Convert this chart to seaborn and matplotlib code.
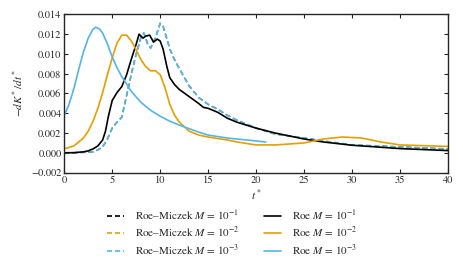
import numpy as np
import pandas as pd
import matplotlib
matplotlib.use("Agg")
import matplotlib.pyplot as plt
from matplotlib.lines import Line2D
import seaborn as sns

# ---- data ----
t_rm = [0, 1, 2, 3, 3.5, 4, 4.5, 5, 5.5, 6, 6.5, 7, 7.5, 8, 8.3, 8.7, 9, 9.5, 10, 10.3, 10.7,
        11, 11.5, 12, 13, 14, 15, 16, 17, 18, 20, 22, 25, 27, 30, 35, 40]
rm_vals = [0.0, 0.0, 0.00005, 0.0001, 0.0003, 0.0006, 0.0014, 0.0025, 0.0031, 0.0036, 0.0058,
           0.0080, 0.0100, 0.0117, 0.0121, 0.0110, 0.0106, 0.0116, 0.0131, 0.0128, 0.0115,
           0.0105, 0.0094, 0.0085, 0.0068, 0.0056, 0.0049, 0.0044, 0.0038, 0.0033, 0.0025,
           0.0019, 0.0015, 0.0012, 0.0008, 0.0006, 0.0004]
rm1 = rm_vals
rm2 = rm_vals
rm3 = rm_vals

t_r1 = [0, 1, 2, 2.5, 3, 3.5, 4, 4.3, 4.6, 5, 5.5, 6, 6.5, 7, 7.5, 7.8, 8.2, 8.5, 8.9, 9.3,
        9.7, 10, 10.3, 10.7, 11, 11.5, 12, 13, 14, 14.5, 15, 16, 17, 18, 20, 22, 25, 27, 30,
        35, 40]
r1 = [0.0, 0.00002, 0.0001, 0.0002, 0.0004, 0.0007, 0.0013, 0.0022, 0.0037, 0.0053, 0.0061,
      0.0067, 0.0079, 0.0095, 0.0110, 0.0120, 0.0116, 0.0118, 0.0119, 0.0112, 0.0115, 0.0113,
      0.0105, 0.0087, 0.0076, 0.0069, 0.0064, 0.0057, 0.0050, 0.0046, 0.0045, 0.0041, 0.0035,
      0.0031, 0.0025, 0.0020, 0.0014, 0.0011, 0.00077, 0.00043, 0.00023]

t_r2 = [0, 1, 2, 2.5, 3, 3.5, 4, 4.5, 5, 5.5, 6, 6.5, 7, 7.5, 8, 8.5, 9, 9.5, 10, 10.5, 11,
        11.5, 12, 13, 14, 15, 17, 18, 20, 22, 25, 27, 29, 31, 33, 35, 40]
r2 = [0.0004, 0.0007, 0.0015, 0.0022, 0.0032, 0.0045, 0.0061, 0.0079, 0.0096, 0.0111, 0.0119,
      0.0119, 0.0113, 0.0104, 0.0094, 0.0087, 0.0083, 0.0083, 0.0079, 0.0066, 0.0049, 0.0038,
      0.0031, 0.0022, 0.0018, 0.0016, 0.0013, 0.0011, 0.0008, 0.0008, 0.0010, 0.0014, 0.0016,
      0.0015, 0.0011, 0.0008, 0.00065]

t_r3 = [0, 0.5, 1, 1.5, 2, 2.5, 3, 3.3, 3.7, 4, 4.5, 5, 5.5, 6, 7, 8, 9, 10, 11, 12, 14, 15,
        17, 20, 21]
r3 = [0.0038, 0.0049, 0.0065, 0.0084, 0.0102, 0.0116, 0.0125, 0.0127, 0.0125, 0.0121, 0.0110,
      0.0097, 0.0086, 0.0077, 0.0062, 0.0051, 0.0043, 0.0037, 0.0032, 0.0028, 0.0021, 0.0018,
      0.0015, 0.0012, 0.0011]

labels_rm = [r"Roe–Miczek $M$ = $10^{-1}$", r"Roe–Miczek $M$ = $10^{-2}$", r"Roe–Miczek $M$ = $10^{-3}$"]
labels_r = [r"Roe $M$ = $10^{-1}$", r"Roe $M$ = $10^{-2}$", r"Roe $M$ = $10^{-3}$"]
colors = ["black", "#E69F00", "#56B4E9"]
dash_lw = [0.8, 0.8, 1.35]

sns.set_style("ticks")
plt.rcParams["font.family"] = ["STIXGeneral", "DejaVu Serif"]
plt.rcParams["mathtext.fontset"] = "stix"
plt.rcParams["xtick.direction"] = "in"
plt.rcParams["ytick.direction"] = "in"

fig = plt.figure(figsize=(4.64, 2.66), dpi=100)
ax = fig.add_axes([0.1385, 0.351, 0.827, 0.595])

for vals, c, w in zip([rm1, rm2, rm3], colors, dash_lw):
    sns.lineplot(x=t_rm, y=vals, ax=ax, color=c, linestyle=(0, (3.6 / w, 2.2 / w)), lw=w)
for tt, vals, c in zip([t_r1, t_r2, t_r3], [r1, r2, r3], colors):
    sns.lineplot(x=tt, y=vals, ax=ax, color=c, lw=1.2)

ax.set_xlim(0, 40)
ax.set_ylim(-0.002, 0.014)
ax.set_xticks(np.arange(0, 41, 5))
ax.set_yticks(np.arange(-0.002, 0.0141, 0.002))
ax.yaxis.set_major_formatter(matplotlib.ticker.FuncFormatter(lambda v, p: f"{v:.3f}".replace("-", "−")))
ax.tick_params(axis="both", labelsize=7.5, top=True, right=True, length=3, width=0.8, pad=2)
for s in ax.spines.values():
    s.set_linewidth(1.0)
ax.set_xlabel(r"$t^*$", fontsize=8, labelpad=2)
ax.set_ylabel(r"$-dK^*/dt^*$", fontsize=8, labelpad=4)

handles = [Line2D([], [], color=c, lw=1.2, dashes=(3, 1.8)) for c in colors] + \
          [Line2D([], [], color=c, lw=1.2) for c in colors]
fig.legend(handles, labels_rm + labels_r, loc="upper center", bbox_to_anchor=(0.501, 0.255),
           ncol=2, frameon=False, fontsize=8, handlelength=1.5, columnspacing=2.25,
           labelspacing=0.25, handletextpad=1.0)

fig.savefig("out.png", dpi=100)
